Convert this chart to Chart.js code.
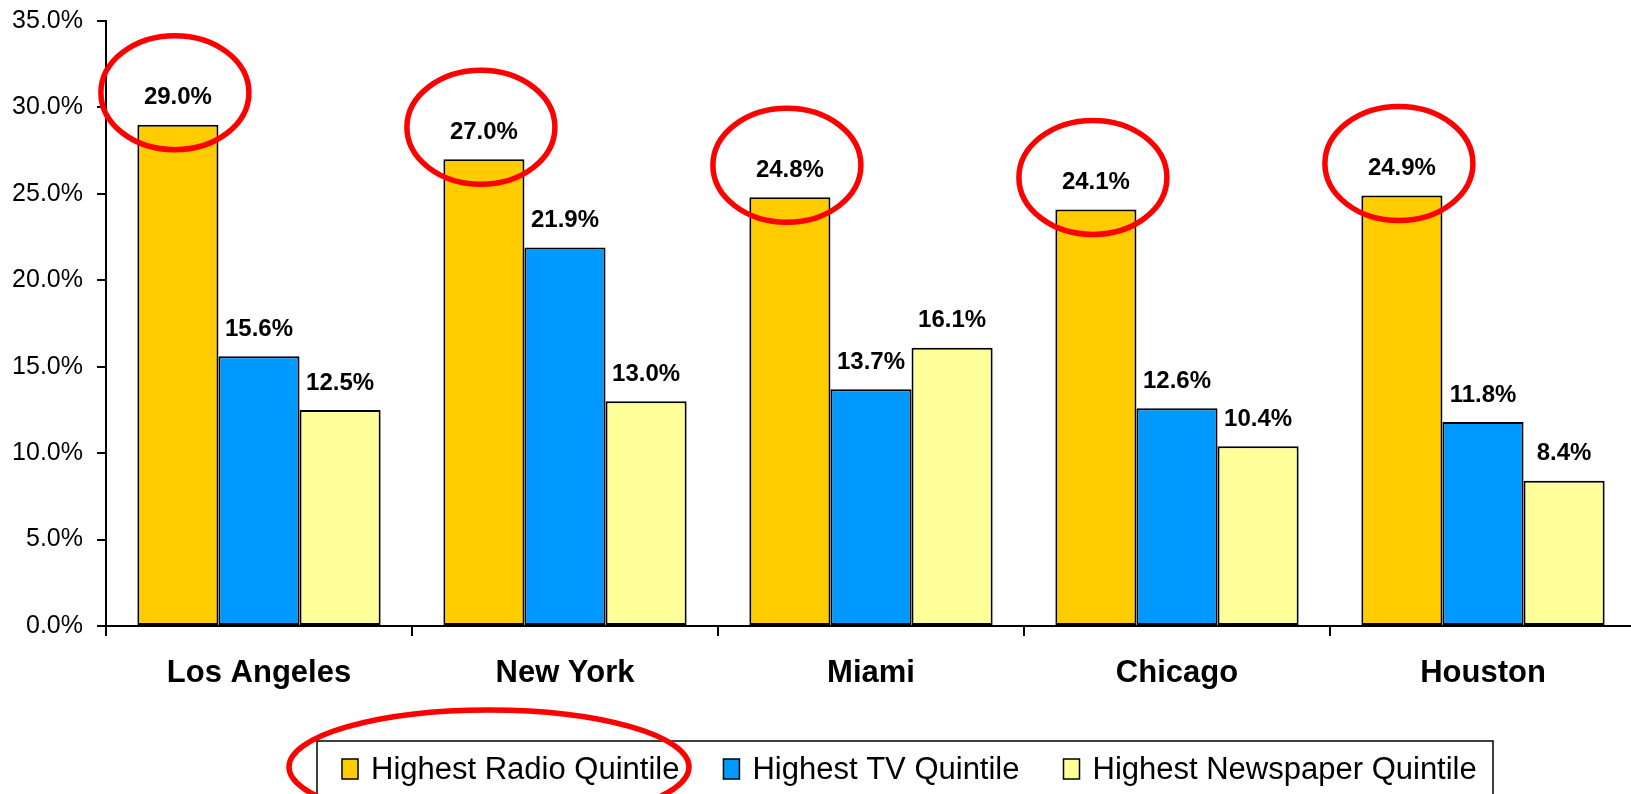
<!DOCTYPE html>
<html lang="en">
<head>
<meta charset="UTF-8">
<title>Highest Media Quintile by Market</title>
<script src="https://cdn.jsdelivr.net/npm/chart.js"></script>
<style>
  html, body { margin: 0; padding: 0; background: #fff; overflow: hidden; }
  #wrap { width: 1631px; height: 794px; overflow: hidden; }
  canvas { display: block; }
</style>
</head>
<body>
<div id="wrap"><canvas id="chart" width="1640" height="794"></canvas></div>
<script>
const markets = ['Los Angeles', 'New York', 'Miami', 'Chicago', 'Houston'];
const radio = [29.0, 27.0, 24.8, 24.1, 24.9];
const tv = [15.6, 21.9, 13.7, 12.6, 11.8];
const newspaper = [12.5, 13.0, 16.1, 10.4, 8.4];
const seriesNames = ['Highest Radio Quintile', 'Highest TV Quintile', 'Highest Newspaper Quintile'];
const seriesColors = ['#FFCC00', '#0099FF', '#FFFF99'];
const yTicks = [0, 5, 10, 15, 20, 25, 30, 35];

const FONT = '"Liberation Sans", Arial, sans-serif';
Chart.defaults.font.family = FONT;
Chart.defaults.color = '#000';

// value printed above every bar
const barLabels = {
  id: 'barLabels',
  afterDatasetsDraw(chart) {
    const ctx = chart.ctx;
    ctx.save();
    ctx.font = 'bold 24px ' + FONT;
    ctx.fillStyle = '#000';
    ctx.textAlign = 'center';
    ctx.textBaseline = 'middle';
    chart.data.datasets.forEach((ds, i) => {
      chart.getDatasetMeta(i).data.forEach((bar, j) => {
        ctx.fillText(ds.data[j].toFixed(1) + '%', bar.x, bar.y - 27);
      });
    });
    ctx.restore();
  }
};

// boxed legend under the axis
const boxLegend = {
  id: 'boxLegend',
  afterDraw(chart) {
    const ctx = chart.ctx;
    const left = 317, top = 741, width = 1176;
    const midY = 769;
    ctx.save();
    ctx.strokeStyle = '#000';
    ctx.lineWidth = 1.5;
    ctx.strokeRect(left, top, width, 80);
    ctx.font = '31px ' + FONT;
    ctx.textBaseline = 'middle';
    let x = left + 25;
    chart.data.datasets.forEach(ds => {
      ctx.fillStyle = ds.backgroundColor;
      ctx.fillRect(x, midY - 10, 16, 20);
      ctx.lineWidth = 1.5;
      ctx.strokeRect(x, midY - 10, 16, 20);
      ctx.fillStyle = '#000';
      ctx.fillText(ds.label, x + 29, midY + 1);
      x += 29 + ctx.measureText(ds.label).width + 44;
    });
    ctx.restore();
  }
};

// red circles around the radio bars and the radio legend entry
const highlight = {
  id: 'highlight',
  afterDraw(chart) {
    const ctx = chart.ctx;
    ctx.save();
    ctx.strokeStyle = '#FF0000';
    ctx.lineWidth = 5.5;
    chart.getDatasetMeta(0).data.forEach(bar => {
      ctx.beginPath();
      ctx.ellipse(bar.x - 3, bar.y - 32, 74, 57, 0, 0, Math.PI * 2);
      ctx.stroke();
    });
    ctx.beginPath();
    ctx.ellipse(489, 767, 200, 57, 0, 0, Math.PI * 2);
    ctx.stroke();
    ctx.restore();
  }
};

new Chart(document.getElementById('chart'), {
  type: 'bar',
  data: {
    labels: markets,
    datasets: [radio, tv, newspaper].map((values, i) => ({
      label: seriesNames[i],
      data: values,
      backgroundColor: seriesColors[i],
      borderColor: '#000',
      borderWidth: 2,
      borderSkipped: false,
      categoryPercentage: 0.795,
      barPercentage: 1.0
    }))
  },
  options: {
    responsive: false,
    animation: false,
    layout: { padding: { top: 21, right: 4, bottom: 88, left: 0 } },
    plugins: {
      legend: { display: false },
      tooltip: { enabled: false }
    },
    scales: {
      x: {
        grid: { drawOnChartArea: false, drawTicks: true, tickLength: 10, color: '#000', lineWidth: 2, offset: true },
        border: { display: true, color: '#000', width: 2 },
        ticks: { font: { size: 31, weight: 'bold' }, padding: 19, color: '#000' },
        afterFit(s) { s.height = 80; s.paddingLeft = 0; s.paddingRight = 0; }
      },
      y: {
        min: 0,
        max: 35,
        afterBuildTicks(s) { s.ticks = yTicks.map(v => ({ value: v })); },
        grid: { drawOnChartArea: false, drawTicks: true, tickLength: 9, color: '#000', lineWidth: 2 },
        border: { display: true, color: '#000', width: 2 },
        ticks: {
          font: { size: 25 },
          padding: 14,
          color: '#000',
          callback: v => v.toFixed(1) + '%'
        },
        afterFit(s) { s.width = 106; s.paddingTop = 0; s.paddingBottom = 0; }
      }
    }
  },
  plugins: [barLabels, boxLegend, highlight]
});
</script>
</body>
</html>
